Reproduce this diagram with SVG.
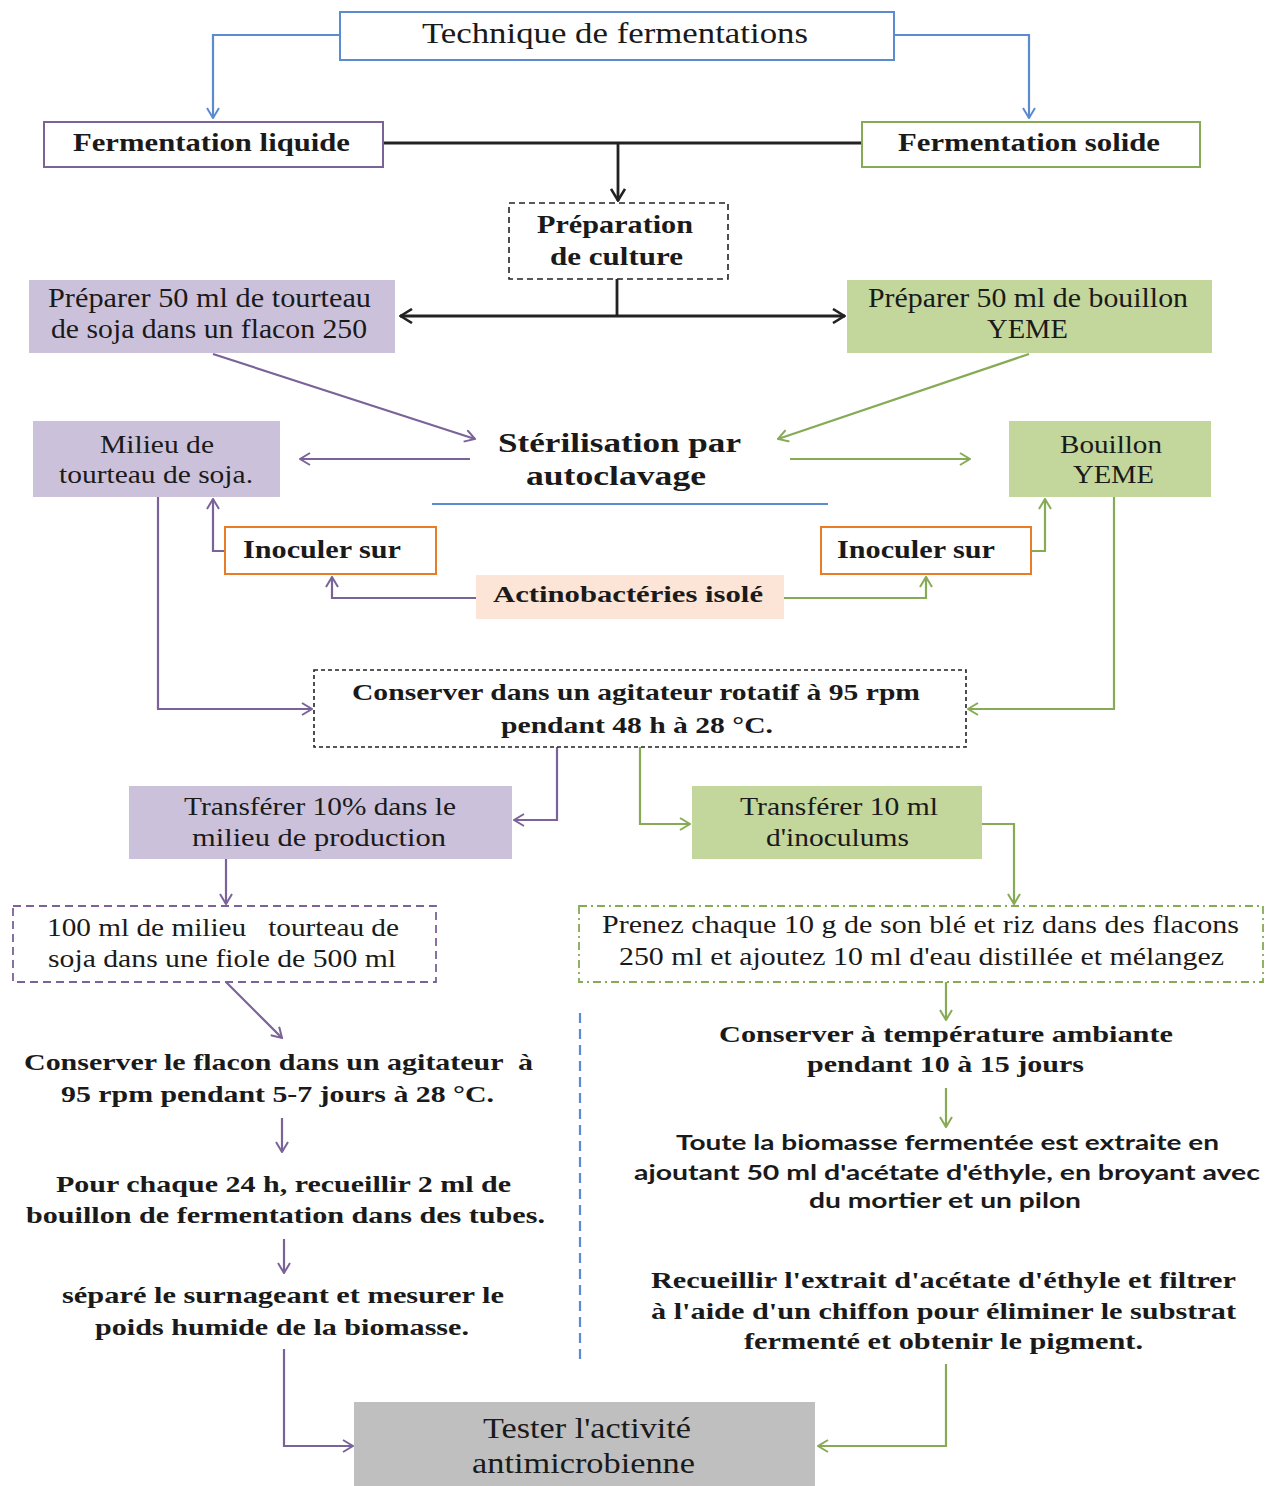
<svg xmlns="http://www.w3.org/2000/svg" width="1273" height="1486" viewBox="0 0 1273 1486">
<style>
.t{font-family:"Liberation Serif","Times New Roman",serif;fill:#1a1a1a;text-anchor:middle}
.b{font-weight:bold}
.s{font-family:Lato,"Liberation Sans",Arial,sans-serif;font-weight:bold;fill:#1a1a1a;text-anchor:middle;font-size:21px}
.c{fill:none;stroke-width:2.2}
.bl{stroke:#5b8bd0}
.pu{stroke:#7a6399}
.gr{stroke:#86aa55}
.bk{stroke:#222;stroke-width:2.8}
</style>
<defs>
<marker id="mb" viewBox="0 0 12 14" refX="11" refY="7" markerWidth="12" markerHeight="14" markerUnits="userSpaceOnUse" orient="auto-start-reverse"><path d="M1,1 L11,7 L1,13" fill="none" stroke="#5b8bd0" stroke-width="2"/></marker>
<marker id="mp" viewBox="0 0 12 14" refX="11" refY="7" markerWidth="12" markerHeight="14" markerUnits="userSpaceOnUse" orient="auto-start-reverse"><path d="M1,1 L11,7 L1,13" fill="none" stroke="#7a6399" stroke-width="2"/></marker>
<marker id="mg" viewBox="0 0 12 14" refX="11" refY="7" markerWidth="12" markerHeight="14" markerUnits="userSpaceOnUse" orient="auto-start-reverse"><path d="M1,1 L11,7 L1,13" fill="none" stroke="#86aa55" stroke-width="2"/></marker>
<marker id="mk" viewBox="0 0 14 16" refX="13" refY="8" markerWidth="14" markerHeight="16" markerUnits="userSpaceOnUse" orient="auto-start-reverse"><path d="M1,1 L12.5,8 L1,15" fill="none" stroke="#222" stroke-width="2.6"/></marker>
</defs>
<rect width="1273" height="1486" fill="#fff"/>

<g id="connectors">
<path class="c bl" d="M340,35 H213 V118" marker-end="url(#mb)"/>
<path class="c bl" d="M894,35 H1029 V118" marker-end="url(#mb)"/>
<path class="c bk" d="M383,143 H862"/>
<path class="c bk" d="M618,143 V201" marker-end="url(#mk)"/>
<path class="c bk" d="M617,279 V316"/>
<path class="c bk" d="M400,316 H845" marker-start="url(#mk)" marker-end="url(#mk)"/>
<path class="c pu" d="M213,354 L475,439" marker-end="url(#mp)"/>
<path class="c gr" d="M1029,354 L778,439" marker-end="url(#mg)"/>
<path class="c pu" d="M470,459 H300" marker-end="url(#mp)"/>
<path class="c gr" d="M790,459 H970" marker-end="url(#mg)"/>
<path class="c pu" d="M225,551 H213 V499" marker-end="url(#mp)"/>
<path class="c gr" d="M1031,551 H1045 V499" marker-end="url(#mg)"/>
<path class="c pu" d="M476,598 H332 V577" marker-end="url(#mp)"/>
<path class="c gr" d="M784,598 H926 V577" marker-end="url(#mg)"/>
<path class="c pu" d="M158,497 V709 H312" marker-end="url(#mp)"/>
<path class="c gr" d="M1114,497 V709 H968" marker-end="url(#mg)"/>
<path class="c pu" d="M557,747 V820 H514" marker-end="url(#mp)"/>
<path class="c gr" d="M640,747 V824 H690" marker-end="url(#mg)"/>
<path class="c gr" d="M982,824 H1014 V904" marker-end="url(#mg)"/>
<path class="c pu" d="M226,859 V904" marker-end="url(#mp)"/>
<path class="c pu" d="M226,982 L282,1038" marker-end="url(#mp)"/>
<path class="c pu" d="M282,1118 V1152" marker-end="url(#mp)"/>
<path class="c pu" d="M284,1239 V1273" marker-end="url(#mp)"/>
<path class="c pu" d="M284,1349 V1446 H353" marker-end="url(#mp)"/>
<path class="c gr" d="M946,982 V1020" marker-end="url(#mg)"/>
<path class="c gr" d="M946,1088 V1127" marker-end="url(#mg)"/>
<path class="c gr" d="M946,1364 V1446 H818" marker-end="url(#mg)"/>
<path class="c bl" d="M432,504 H828"/>
<path class="c bl" d="M580,1013 V1364" stroke-dasharray="10,6"/>
</g>

<g id="n-technique">
<rect x="340" y="12" width="554" height="48" fill="#fff" stroke="#5b8bd0" stroke-width="2"/>
<text class="t" x="615" y="43" font-size="30" textLength="386" lengthAdjust="spacingAndGlyphs">Technique de fermentations</text>
</g>
<g id="n-liquide">
<rect x="44" y="122" width="339" height="45" fill="#fff" stroke="#7a6399" stroke-width="2"/>
<text class="t b" x="211.5" y="151" font-size="26" textLength="277" lengthAdjust="spacingAndGlyphs">Fermentation liquide</text>
</g>
<g id="n-solide">
<rect x="862" y="122" width="338" height="45" fill="#fff" stroke="#86aa55" stroke-width="2"/>
<text class="t b" x="1029" y="151" font-size="26" textLength="262" lengthAdjust="spacingAndGlyphs">Fermentation solide</text>
</g>
<g id="n-preparation">
<rect x="509" y="203" width="219" height="76" fill="#fff" stroke="#222" stroke-width="1.6" stroke-dasharray="6,4"/>
<text class="t b" x="615" y="233" font-size="26" textLength="156" lengthAdjust="spacingAndGlyphs">Préparation</text>
<text class="t b" x="616.5" y="265" font-size="26" textLength="133" lengthAdjust="spacingAndGlyphs">de culture</text>
</g>
<g id="n-prep-tourteau">
<rect x="29" y="280" width="366" height="73" fill="#ccc1da"/>
<text class="t" x="209.5" y="307" font-size="27" textLength="323" lengthAdjust="spacingAndGlyphs">Préparer 50 ml de tourteau</text>
<text class="t" x="209" y="338" font-size="27" textLength="316" lengthAdjust="spacingAndGlyphs">de soja dans un flacon 250</text>
</g>
<g id="n-prep-bouillon">
<rect x="847" y="280" width="365" height="73" fill="#c3d69b"/>
<text class="t" x="1028" y="307" font-size="27" textLength="320" lengthAdjust="spacingAndGlyphs">Préparer 50 ml de bouillon</text>
<text class="t" x="1027.5" y="338" font-size="27" textLength="81" lengthAdjust="spacingAndGlyphs">YEME</text>
</g>
<g id="n-sterilisation">
<text class="t b" x="619.5" y="452" font-size="28" textLength="243" lengthAdjust="spacingAndGlyphs">Stérilisation par</text>
<text class="t b" x="616" y="485" font-size="28" textLength="180" lengthAdjust="spacingAndGlyphs">autoclavage</text>
</g>
<g id="n-milieu">
<rect x="33" y="421" width="247" height="76" fill="#ccc1da"/>
<text class="t" x="157" y="453" font-size="26" textLength="114" lengthAdjust="spacingAndGlyphs">Milieu de</text>
<text class="t" x="156" y="483" font-size="26" textLength="194" lengthAdjust="spacingAndGlyphs">tourteau de soja.</text>
</g>
<g id="n-bouillon">
<rect x="1009" y="421" width="202" height="76" fill="#c3d69b"/>
<text class="t" x="1111" y="453" font-size="26" textLength="102" lengthAdjust="spacingAndGlyphs">Bouillon</text>
<text class="t" x="1113.5" y="483" font-size="26" textLength="81" lengthAdjust="spacingAndGlyphs">YEME</text>
</g>
<g id="n-inoculer-l">
<rect x="225" y="527" width="211" height="47" fill="#fff" stroke="#e97c26" stroke-width="2"/>
<text class="t b" x="322" y="558" font-size="25" textLength="158" lengthAdjust="spacingAndGlyphs">Inoculer sur</text>
</g>
<g id="n-inoculer-r">
<rect x="821" y="527" width="210" height="47" fill="#fff" stroke="#e97c26" stroke-width="2"/>
<text class="t b" x="916" y="558" font-size="25" textLength="158" lengthAdjust="spacingAndGlyphs">Inoculer sur</text>
</g>
<g id="n-actino">
<rect x="476" y="575" width="308" height="44" fill="#fce4d6"/>
<text class="t b" x="628" y="602" font-size="24" textLength="270" lengthAdjust="spacingAndGlyphs">Actinobactéries isolé</text>
</g>
<g id="n-conserver">
<rect x="314" y="670" width="652" height="77" fill="#fff" stroke="#222" stroke-width="1.6" stroke-dasharray="4,3"/>
<text class="t b" x="636" y="700" font-size="24" textLength="568" lengthAdjust="spacingAndGlyphs">Conserver dans un agitateur rotatif à 95 rpm</text>
<text class="t b" x="637" y="733" font-size="24" textLength="272" lengthAdjust="spacingAndGlyphs">pendant 48 h à 28 °C.</text>
</g>
<g id="n-transferer-10p">
<rect x="129" y="786" width="383" height="73" fill="#ccc1da"/>
<text class="t" x="320" y="815" font-size="26" textLength="272" lengthAdjust="spacingAndGlyphs">Transférer 10% dans le</text>
<text class="t" x="319" y="846" font-size="26" textLength="254" lengthAdjust="spacingAndGlyphs">milieu de production</text>
</g>
<g id="n-transferer-10ml">
<rect x="692" y="786" width="290" height="73" fill="#c3d69b"/>
<text class="t" x="839" y="815" font-size="26" textLength="198" lengthAdjust="spacingAndGlyphs">Transférer 10 ml</text>
<text class="t" x="837.5" y="846" font-size="26" textLength="143" lengthAdjust="spacingAndGlyphs">d'inoculums</text>
</g>
<g id="n-100ml">
<rect x="13" y="906" width="423" height="76" fill="#fff" stroke="#7a6399" stroke-width="1.8" stroke-dasharray="8,5"/>
<text class="t" x="223" y="936" font-size="25" textLength="352" lengthAdjust="spacingAndGlyphs" xml:space="preserve">100 ml de milieu   tourteau de</text>
<text class="t" x="222" y="967" font-size="25" textLength="348" lengthAdjust="spacingAndGlyphs">soja dans une fiole de 500 ml</text>
</g>
<g id="n-prenez">
<rect x="579" y="906" width="684" height="76" fill="#fff" stroke="#86aa55" stroke-width="1.8" stroke-dasharray="8,4,2,4"/>
<text class="t" x="920.5" y="933" font-size="25" textLength="637" lengthAdjust="spacingAndGlyphs">Prenez chaque 10 g de son blé et riz dans des flacons</text>
<text class="t" x="921.5" y="965" font-size="25" textLength="605" lengthAdjust="spacingAndGlyphs">250 ml et ajoutez 10 ml d'eau distillée et mélangez</text>
</g>
<g id="n-conserver-flacon">
<text class="t b" x="278.5" y="1070" font-size="24" textLength="509" lengthAdjust="spacingAndGlyphs" xml:space="preserve">Conserver le flacon dans un agitateur  à</text>
<text class="t b" x="277.5" y="1102" font-size="24" textLength="433" lengthAdjust="spacingAndGlyphs">95 rpm pendant 5-7 jours à 28 °C.</text>
</g>
<g id="n-pour-chaque">
<text class="t b" x="283.5" y="1192" font-size="24" textLength="455" lengthAdjust="spacingAndGlyphs">Pour chaque 24 h, recueillir 2 ml de</text>
<text class="t b" x="285.5" y="1223" font-size="24" textLength="519" lengthAdjust="spacingAndGlyphs">bouillon de fermentation dans des tubes.</text>
</g>
<g id="n-separe">
<text class="t b" x="283" y="1303" font-size="24" textLength="442" lengthAdjust="spacingAndGlyphs">séparé le surnageant et mesurer le</text>
<text class="t b" x="282" y="1335" font-size="24" textLength="374" lengthAdjust="spacingAndGlyphs">poids humide de la biomasse.</text>
</g>
<g id="n-conserver-ambiante">
<text class="t b" x="946" y="1042" font-size="24" textLength="454" lengthAdjust="spacingAndGlyphs">Conserver à température ambiante</text>
<text class="t b" x="945.5" y="1072" font-size="24" textLength="277" lengthAdjust="spacingAndGlyphs">pendant 10 à 15 jours</text>
</g>
<g id="n-toute">
<text class="s" x="947.5" y="1150" textLength="543" lengthAdjust="spacingAndGlyphs">Toute la biomasse fermentée est extraite en</text>
<text class="s" x="947" y="1180" textLength="626" lengthAdjust="spacingAndGlyphs">ajoutant 50 ml d'acétate d'éthyle, en broyant avec</text>
<text class="s" x="945" y="1208" textLength="272" lengthAdjust="spacingAndGlyphs">du mortier et un pilon</text>
</g>
<g id="n-recueillir">
<text class="t b" x="943.5" y="1288" font-size="24" textLength="585" lengthAdjust="spacingAndGlyphs">Recueillir l'extrait d'acétate d'éthyle et filtrer</text>
<text class="t b" x="943.5" y="1319" font-size="24" textLength="585" lengthAdjust="spacingAndGlyphs">à l'aide d'un chiffon pour éliminer le substrat</text>
<text class="t b" x="943.5" y="1349" font-size="24" textLength="399" lengthAdjust="spacingAndGlyphs">fermenté et obtenir le pigment.</text>
</g>
<g id="n-tester">
<rect x="354" y="1402" width="461" height="84" fill="#bfbfbf"/>
<text class="t" x="587" y="1438" font-size="29" textLength="208" lengthAdjust="spacingAndGlyphs">Tester l'activité</text>
<text class="t" x="583.5" y="1473" font-size="29" textLength="223" lengthAdjust="spacingAndGlyphs">antimicrobienne</text>
</g>
</svg>
